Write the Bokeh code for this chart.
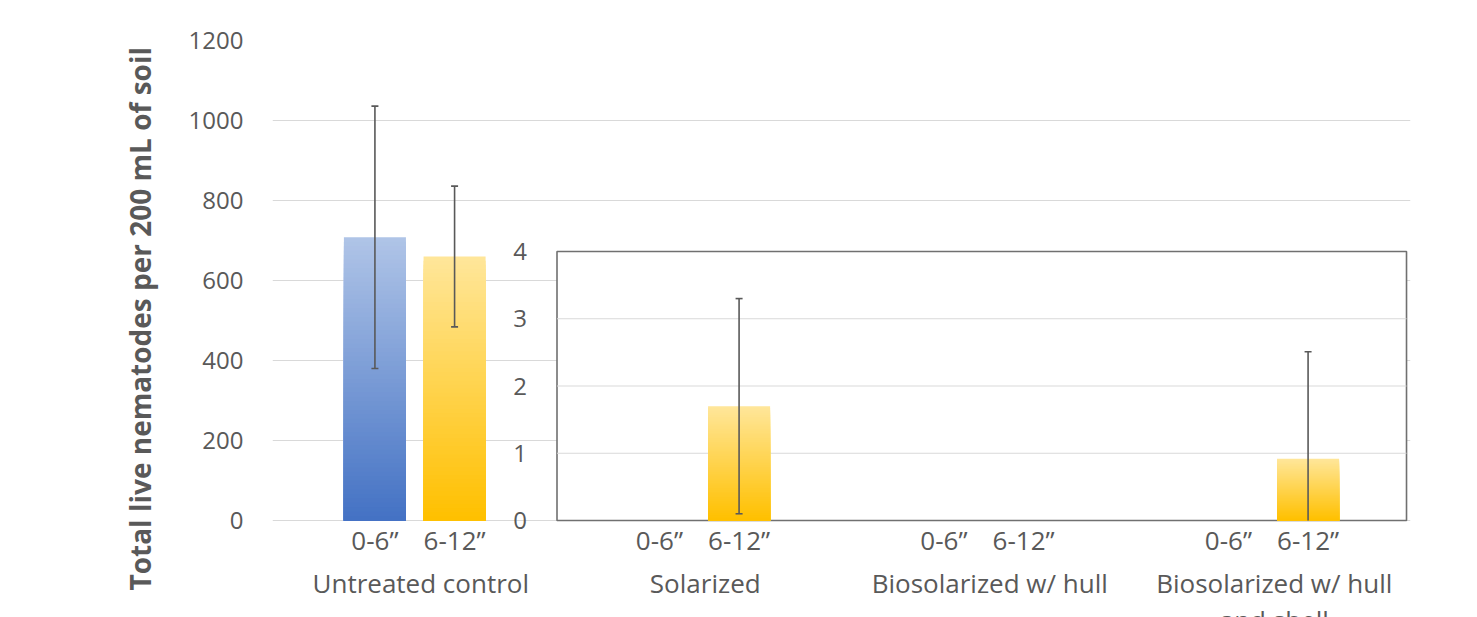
import textwrap
import numpy as np
from bokeh.plotting import figure
from bokeh.models import (Range1d, FixedTicker, ColumnDataSource, LabelSet, Title)
from bokeh.core.properties import value
from bokeh.embed import file_html
from bokeh.resources import INLINE

# ---------------- data ----------------
groups = ["Untreated control", "Solarized", "Biosolarized w/ hull",
          "Biosolarized w/ hull and shell"]
depths = ["0-6\u201d", "6-12\u201d"]
mean_0_6 = [708, 0, 0, 0]
mean_6_12 = [660, 1.7, 0, 0.92]
err_0_6 = [328, 0, 0, 0]
err_6_12 = [176, 1.6, 0, 1.59]
main_ticks = [0, 200, 400, 600, 800, 1000, 1200]
inset_ticks = [0, 1, 2, 3, 4]
n_main = 1   # first group(s) on the 0-1200 scale, the rest on the 0-4 inset scale
y_title = "Total live nematodes per 200 mL of soil"

# ---------------- style ----------------
FONT = "Open Sans"
TXT = "#595959"
GRID = "#d9d9d9"
ERR = "#595959"
BOX = "#707070"
BLUE = ("#afc4e7", "#4472c4")
YELLOW = ("#ffe699", "#ffc000")
GW = 100          # width of a category group in x units
OFF = 14          # bar offset from group centre
BW = 21.8         # bar width
PLOT_PX = 480     # pixels from 0 to the top tick of the main scale
BELOW_PX = 97     # frame pixels kept below zero (room for category labels)
INSET_PX = 269    # pixel height of the inset panel
NSLICE = 64
FS = "24px"       # value tick labels
CFS = "26px"      # category labels

main_top = main_ticks[-1]
inset_top = inset_ticks[-1]

p = figure(width=1469, height=617,
           x_range=Range1d(0, GW * len(groups)),
           y_range=Range1d(-main_top * BELOW_PX / PLOT_PX, main_top),
           output_backend="svg", toolbar_location=None, x_axis_location=None,
           min_border_left=272, min_border_right=59,
           min_border_top=40, min_border_bottom=0,
           outline_line_color=None)
p.extra_y_ranges = {"inset": Range1d(-inset_top * BELOW_PX / INSET_PX,
                                     inset_top * PLOT_PX / INSET_PX)}

p.xgrid.visible = False
p.ygrid.ticker = FixedTicker(ticks=main_ticks)
p.ygrid.grid_line_color = GRID
p.ygrid.grid_line_width = 1

# main y axis
p.yaxis.ticker = FixedTicker(ticks=main_ticks)
p.yaxis.axis_line_color = None
p.yaxis.major_tick_line_color = None
p.yaxis.minor_tick_line_color = None
p.yaxis.major_tick_out = 0
p.yaxis.major_label_standoff = 29
p.yaxis.major_label_text_font = FONT
p.yaxis.major_label_text_font_size = FS
p.yaxis.major_label_text_color = TXT

# y title
p.add_layout(Title(text=y_title, align="left", offset=27, standoff=54,
                   text_font=FONT, text_font_size="28px", text_font_style="bold",
                   text_color=TXT), "left")

centers = [g * GW + GW // 2 for g in range(len(groups))]


def labels(xs, ys, texts, yoff, rng="default", **kw):
    src = ColumnDataSource(dict(x=xs, y=ys, t=texts))
    opts = dict(text_align="center", text_baseline="top", text_font=value(FONT),
                text_font_size=value(CFS), text_color=TXT)
    opts.update(kw)
    p.add_layout(LabelSet(source=src, x="x", y="y", text="t", y_offset=yoff,
                          y_range_name=rng, **opts))


# depth labels
depth_pos, depth_lab = [], []
for c in centers:
    for d, lab in enumerate(depths):
        depth_pos.append(c - OFF if d == 0 else c + OFF)
        depth_lab.append(lab)
labels(depth_pos, [0] * len(depth_pos), depth_lab, -1)

# group labels (wrapped)
wrapped = [textwrap.wrap(g, 20) for g in groups]
nlines = max(len(w) for w in wrapped)
for i in range(nlines):
    xs = [c for c, w in zip(centers, wrapped) if len(w) > i]
    ts = [w[i] for w in wrapped if len(w) > i]
    labels(xs, [0] * len(xs), ts, -44 - 37 * i, x_offset=6)

# inset panel
inset_left = GW * n_main
inset_right = GW * len(groups) - 1.4
p.quad(left=[inset_left], right=[inset_right], bottom=[inset_ticks[0]],
       top=[inset_top], fill_color="white", line_color=BOX, line_width=1.6,
       y_range_name="inset")
p.segment(x0=[inset_left] * (len(inset_ticks) - 2), x1=[inset_right] * (len(inset_ticks) - 2),
          y0=inset_ticks[1:-1], y1=inset_ticks[1:-1], line_color=GRID, line_width=1,
          y_range_name="inset")
labels([inset_left] * len(inset_ticks), inset_ticks, [str(t) for t in inset_ticks], 0,
       rng="inset", x_offset=-30, text_align="right", text_baseline="middle",
       text_font_size=value(FS))


def hex2rgb(h):
    return np.array([int(h[i:i + 2], 16) for i in (1, 3, 5)], float)


def rgb2hex(c):
    return "#%02x%02x%02x" % tuple(int(round(v)) for v in c)


bar_src = {"default": dict(x=[], top=[], color=[]), "inset": dict(x=[], top=[], color=[])}
err_src = {"default": dict(x=[], lo=[], hi=[]), "inset": dict(x=[], lo=[], hi=[])}
cap_src = {"default": dict(x=[], y=[]), "inset": dict(x=[], y=[])}

for g, c in enumerate(centers):
    rng = "default" if g < n_main else "inset"
    for d, (means, errs, cols) in enumerate([(mean_0_6, err_0_6, BLUE),
                                             (mean_6_12, err_6_12, YELLOW)]):
        x = c - OFF if d == 0 else c + OFF
        v, e = means[g], errs[g]
        if v > 0:
            top_c, bot_c = hex2rgb(cols[0]), hex2rgb(cols[1])
            for k in range(NSLICE):
                t = k / (NSLICE - 1)
                bar_src[rng]["x"].append(x)
                bar_src[rng]["top"].append(v * (1 - k / NSLICE))
                bar_src[rng]["color"].append(rgb2hex(top_c + (bot_c - top_c) * t))
        if e > 0:
            lo, hi = v - e, v + e
            err_src[rng]["x"].append(x)
            err_src[rng]["lo"].append(max(lo, 0))
            err_src[rng]["hi"].append(hi)
            cap_src[rng]["x"].append(x)
            cap_src[rng]["y"].append(hi)
            if lo > 0:
                cap_src[rng]["x"].append(x)
                cap_src[rng]["y"].append(lo)

for rng in ("default", "inset"):
    p.vbar(x="x", top="top", bottom=0, width=BW, fill_color="color", line_color=None,
           source=ColumnDataSource(bar_src[rng]), y_range_name=rng)
for rng in ("default", "inset"):
    p.segment(x0="x", x1="x", y0="lo", y1="hi", line_color=ERR, line_width=1.6,
              source=ColumnDataSource(err_src[rng]), y_range_name=rng)
    p.scatter(x="x", y="y", marker="dash", size=7, line_color=ERR, line_width=1.6,
              source=ColumnDataSource(cap_src[rng]), y_range_name=rng)

open("out.html", "w").write(file_html(p, INLINE))
